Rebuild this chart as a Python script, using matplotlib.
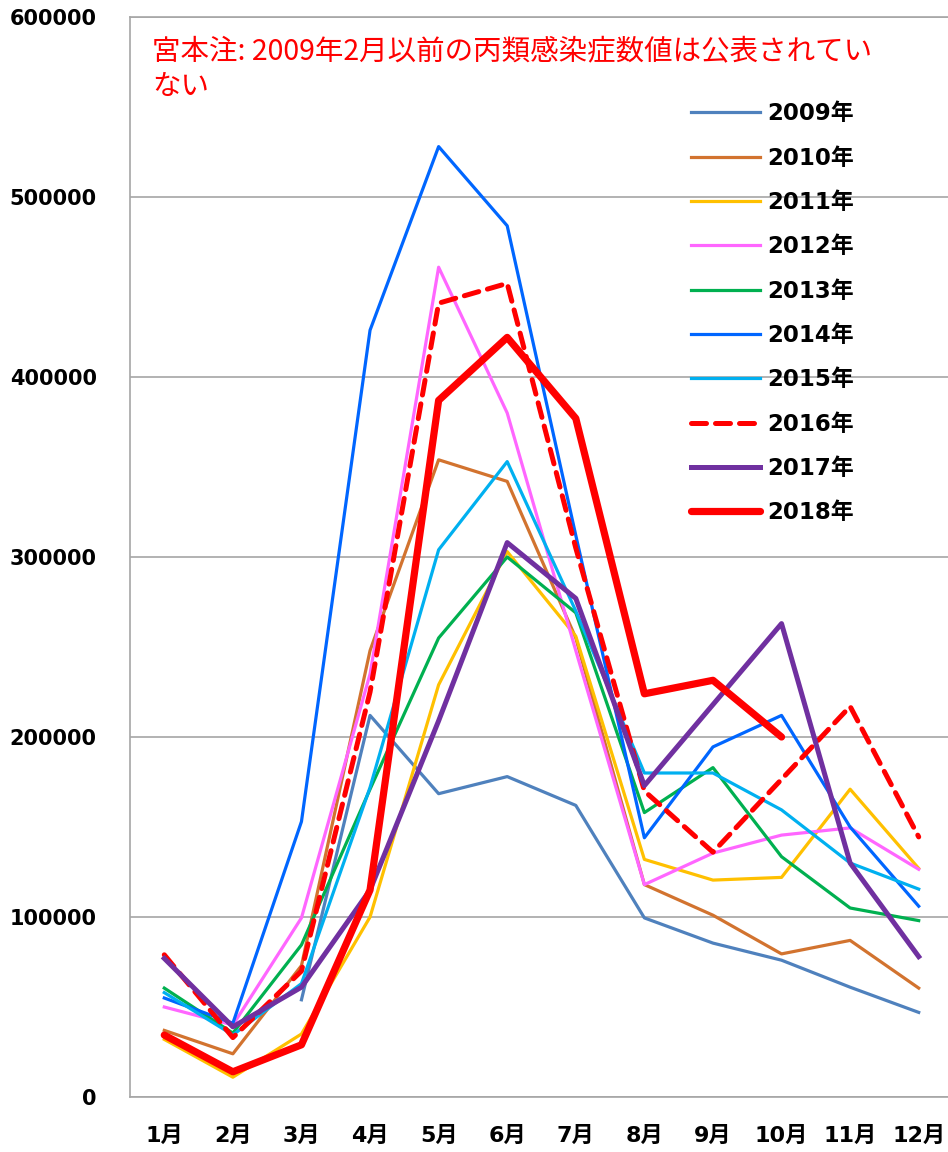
import numpy as np
import matplotlib
matplotlib.use('Agg')
import matplotlib.pyplot as plt

plt.rcParams['font.family'] = ['DejaVu Sans', 'Noto Sans CJK JP']

months = ['1月', '2月', '3月', '4月', '5月', '6月', '7月', '8月', '9月', '10月', '11月', '12月']
nan = np.nan

# monthly counts
y2009 = [nan, nan, 54000, 212000, 168500, 178000, 162000, 99500, 85500, 76000, 61000, 47000]
y2010 = [37000, 24000, 73000, 248000, 354000, 342000, 255000, 118000, 101000, 79500, 87000, 60500]
y2011 = [32000, 11000, 35000, 100000, 229000, 303000, 256000, 132000, 120500, 122000, 171000, 127000]
y2012 = [50000, 40000, 99500, 235000, 461000, 380000, 248000, 118000, 135500, 145500, 149500, 126500]
y2013 = [60500, 35500, 84500, 171000, 255000, 300000, 269000, 158000, 183000, 133500, 105000, 98000]
y2014 = [55000, 41000, 153000, 426000, 528000, 484000, 312000, 144000, 194500, 212000, 150000, 106000]
y2015 = [58000, 34500, 63000, 172000, 304000, 353000, 270000, 180000, 180000, 159500, 130000, 115500]
y2016 = [79000, 33000, 70000, 225000, 441000, 452000, 305000, 170000, 136000, 176500, 217000, 144500]
y2017 = [77000, 39000, 61000, 115000, 209000, 308000, 277000, 173000, 218000, 263000, 130000, 78000]
y2018 = [34400, 14000, 29000, 115000, 387000, 422000, 377000, 224000, 231500, 200000, nan, nan]

series = [
    ('2009年', y2009, '#4F81BD'),
    ('2010年', y2010, '#D2732F'),
    ('2011年', y2011, '#FFC000'),
    ('2012年', y2012, '#FF66FF'),
    ('2013年', y2013, '#00B050'),
    ('2014年', y2014, '#0066FF'),
    ('2015年', y2015, '#00B0F0'),
    ('2016年', y2016, '#FF0000'),
    ('2017年', y2017, '#7030A0'),
    ('2018年', y2018, '#FF0000'),
]

W, H = 948, 1152
fig = plt.figure(figsize=(W / 100, H / 100), dpi=100)
ax = fig.add_axes([130 / W, 1 - 1097 / H, 823 / W, 1080 / H])

x = np.arange(len(months))
for name, vals, col in series:
    if name == '2016年':
        ax.plot(x, vals, color=col, lw=3.6, dashes=(3, 1.8), dash_capstyle='round', label=name)
    elif name == '2017年':
        ax.plot(x, vals, color=col, lw=3.6, label=name)
    elif name == '2018年':
        ax.plot(x, vals, color=col, lw=5.2, solid_capstyle='round', label=name)
    else:
        ax.plot(x, vals, color=col, lw=2.3, label=name)

ax.set_xlim(-0.5, 11.5)
ax.set_ylim(0, 600000)
ax.set_yticks(np.arange(0, 600001, 100000))
ax.set_xticks(x)
ax.set_xticklabels(months)
ax.grid(axis='y', color='#A6A6A6', lw=1.2)
ax.set_axisbelow(True)
for s in ax.spines.values():
    s.set_color('#A6A6A6')
    s.set_linewidth(1.2)
ax.tick_params(length=0)
ax.tick_params(axis='y', pad=24, labelsize=15)
ax.tick_params(axis='x', pad=21, labelsize=16)
for lab in ax.get_xticklabels() + ax.get_yticklabels():
    lab.set_fontweight('bold')

# note text, wrapped onto two lines as in the original
note_font = ['Noto Sans CJK JP', 'DejaVu Sans']
fig.text(152 / W, 1 - 36 / H, '宮本注: 2009年2月以前の丙類感染症数値は公表されてい',
         color='#FF0000', fontsize=20.5, va='top', ha='left', family=note_font)
fig.text(152 / W, 1 - 72 / H, 'ない',
         color='#FF0000', fontsize=20.5, va='top', ha='left', family=note_font)

leg = ax.legend(loc='upper left', bbox_to_anchor=(680 / W, 1 - 91 / H),
                bbox_transform=fig.transFigure, frameon=False, borderpad=0,
                handlelength=3.0, handletextpad=0.3, labelspacing=0.93,
                prop={'size': 16.5, 'weight': 'bold'})

fig.savefig('out.png', dpi=100)
